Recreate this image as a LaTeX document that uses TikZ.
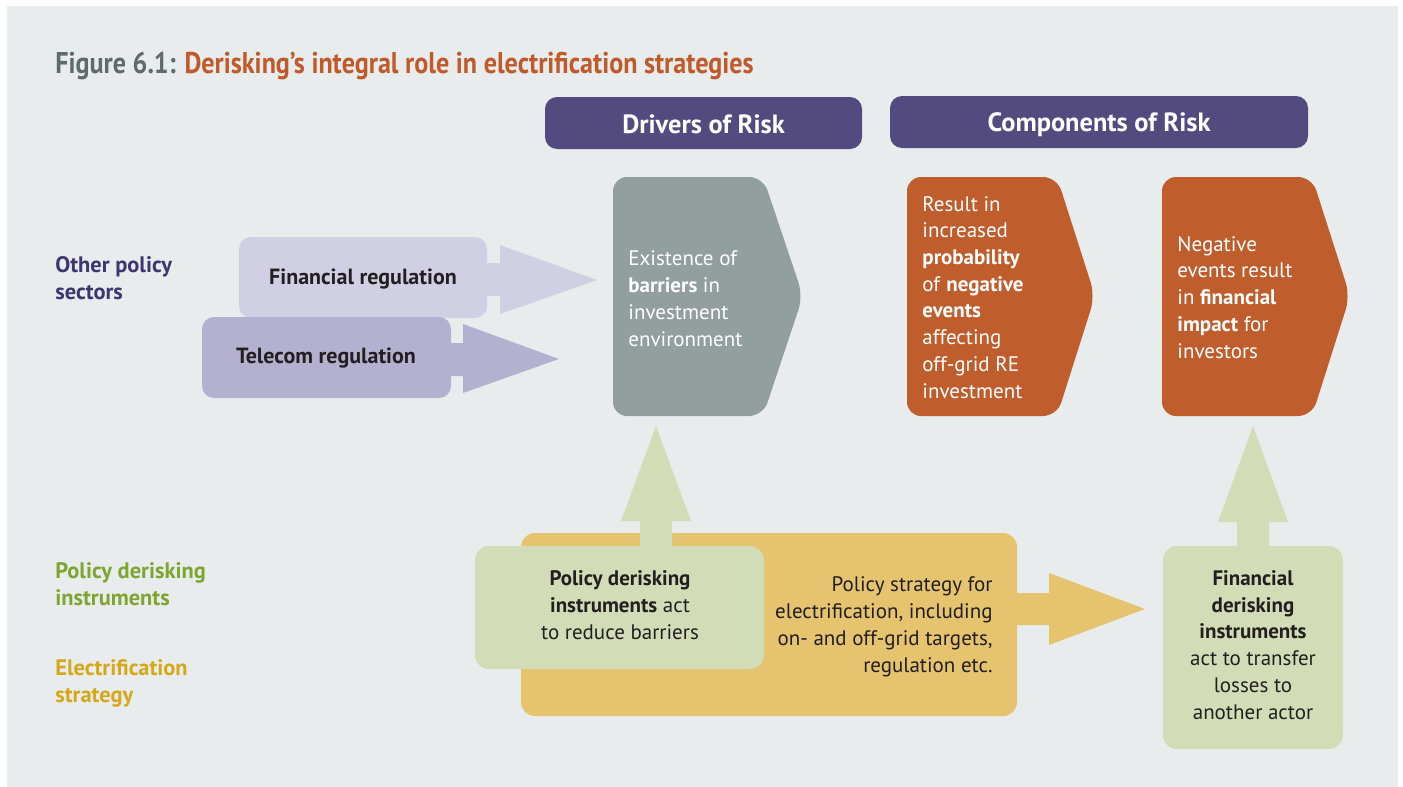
\documentclass[tikz,border=0pt]{standalone}
\usepackage{fontspec}
\setmainfont{PT Sans}
\newfontfamily\titlefont[FakeStretch=0.87]{PT Sans}
\usetikzlibrary{positioning}

\definecolor{panel}{HTML}{E8ECEC}
\definecolor{headbg}{HTML}{534B80}
\definecolor{barrierbg}{HTML}{939F9D}
\definecolor{riskbg}{HTML}{BF5D2D}
\definecolor{finregbg}{HTML}{D0CFE3}
\definecolor{telregbg}{HTML}{B3B1CF}
\definecolor{strategybg}{HTML}{E6C36F}
\definecolor{instrbg}{HTML}{D2DDB7}
\definecolor{titlegray}{HTML}{5E6B69}
\definecolor{titleorange}{HTML}{C05A2B}
\definecolor{labpurple}{HTML}{3F3573}
\definecolor{labgreen}{HTML}{7DA52F}
\definecolor{labyellow}{HTML}{D6A718}
\definecolor{darktxt}{HTML}{231F20}

\begin{document}
\begin{tikzpicture}[x=0.5pt,y=-0.5pt,
    txt/.style={inner sep=0pt, font=\fontsize{10.5}{13.35}\selectfont},
    regtxt/.style={inner sep=0pt, text=darktxt, font=\fontsize{11}{13.35}\selectfont\bfseries},
    headtxt/.style={inner sep=0pt, text=white, font=\fontsize{13.2}{15}\selectfont\bfseries},
    sidelab/.style={txt, anchor=base west, align=left, font=\fontsize{11.2}{13.5}\selectfont\bfseries}
  ]
  \useasboundingbox (0,0) rectangle (1403,787);
  \fill[white] (0,0) rectangle (1403,787);
  \fill[panel] (7,6) rectangle (1398,787);

  % title
  \node[anchor=base west, inner sep=0pt, font=\titlefont\fontsize{15}{18}\selectfont\bfseries] (title) at (55,73)
    {\textcolor{titlegray}{Figure 6.1:} \textcolor{titleorange}{Derisking’s integral role in electrification strategies}};

  % headers
  \fill[headbg, rounded corners=6pt] (545,97) rectangle (862,149);
  \fill[headbg, rounded corners=6pt] (890,96) rectangle (1308,148);
  \node[headtxt] (drivers) at (703.5,124) {Drivers of Risk};
  \node[headtxt] (components) at (1099,125) {Components of Risk};

  % side labels (anchored at last baseline)
  \node[sidelab, text=labpurple] (other) at (55,299) {Other policy\\sectors};
  \node[sidelab, text=labgreen] (pdi) at (55,605) {Policy derisking\\instruments};
  \node[sidelab, text=labyellow] (elec) at (55,702) {Electrification\\strategy};

  % other policy sectors
  \fill[finregbg, rounded corners=6pt] (239,237) rectangle (487,318);
  \fill[finregbg] (486,263) -- (500,263) -- (500,245) -- (597,280) -- (500,314) -- (500,296) -- (486,296) -- cycle;
  \fill[telregbg, rounded corners=6pt] (202,317) rectangle (451,398);
  \fill[telregbg] (450,343) -- (463,343) -- (463,324) -- (559,359) -- (463,393) -- (463,376) -- (450,376) -- cycle;
  \node[regtxt] (finreg) at (363,279) {Financial regulation};
  \node[regtxt] (telreg) at (326,358) {Telecom regulation};

  % drivers and components
  \fill[barrierbg, rounded corners=7pt] (613,177) -- (763,177) -- (803,296) -- (763,416) -- (613,416) -- cycle;
  \fill[riskbg, rounded corners=7pt] (907,177) -- (1057,177) -- (1095,296) -- (1057,416) -- (907,416) -- cycle;
  \fill[riskbg, rounded corners=7pt] (1162,177) -- (1312,177) -- (1350,296) -- (1312,416) -- (1162,416) -- cycle;

  \node[txt, anchor=base west, align=left, text=white] (barriers) at (628,346)
    {Existence of\\\textbf{barriers} in\\investment\\environment};
  \node[txt, anchor=base west, align=left, text=white] (probability) at (922,398)
    {Result in\\increased\\\textbf{probability}\\of \textbf{negative}\\\textbf{events}\\affecting\\off-grid RE\\investment};
  \node[txt, anchor=base west, align=left, text=white] (impact) at (1177,358)
    {Negative\\events result\\in \textbf{financial}\\\textbf{impact} for\\investors};

  % electrification strategy
  \fill[strategybg, rounded corners=7pt] (521,533) rectangle (1017,716);
  \fill[strategybg] (1016,593) -- (1049,593) -- (1049,573) -- (1145,609) -- (1049,645) -- (1049,625) -- (1016,625) -- cycle;
  \node[txt, anchor=base east, align=right, text=darktxt] (strategy) at (993,672)
    {Policy strategy for\\electrification, including\\on- and off-grid targets,\\regulation etc.};

  % derisking instruments
  \fill[instrbg] (640,547) -- (640,521) -- (621,521) -- (656,426) -- (691,521) -- (672,521) -- (672,547) -- cycle;
  \fill[instrbg, rounded corners=7pt] (475,546) rectangle (764,669);
  \node[txt, anchor=base, align=center, text=darktxt] (policyinstr) at (620,639)
    {\textbf{Policy derisking}\\\textbf{instruments} act\\to reduce barriers};

  \fill[instrbg] (1237,547) -- (1237,522) -- (1218,522) -- (1253,426) -- (1288,522) -- (1269,522) -- (1269,547) -- cycle;
  \fill[instrbg, rounded corners=7pt] (1163,546) rectangle (1343,749);
  \node[txt, anchor=base, align=center, text=darktxt] (fininstr) at (1253,719)
    {\textbf{Financial}\\\textbf{derisking}\\\textbf{instruments}\\act to transfer\\losses to\\another actor};
\end{tikzpicture}
\end{document}
